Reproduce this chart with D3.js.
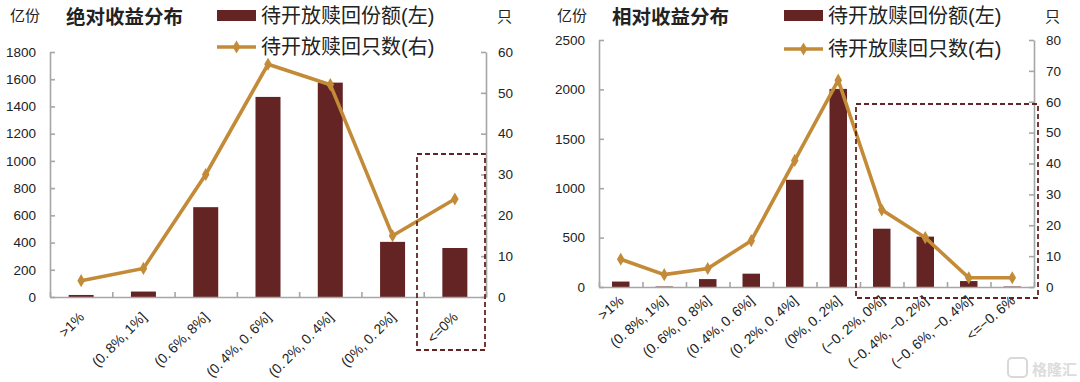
<!DOCTYPE html>
<html>
<head>
<meta charset="utf-8">
<script src="https://cdnjs.cloudflare.com/ajax/libs/d3/7.8.5/d3.min.js"></script>
<style>
  html, body { margin: 0; padding: 0; background: #fff; }
  svg { display: block; }
  text { font-family: "Liberation Sans", "Noto Sans CJK SC", sans-serif; fill: #222; }
  .axis path, .axis line { stroke: #a6a6a6; stroke-width: 1.6; }
</style>
</head>
<body>
<svg id="chart" width="1080" height="382"></svg>
<script>
var absCategories = [">1%", "(0. 8%, 1%]", "(0. 6%, 8%]", "(0. 4%, 0. 6%]", "(0. 2%, 0. 4%]", "(0%, 0. 2%]", "<=0%"];
var absShares = [15, 40, 660, 1470, 1575, 405, 360];
var absCounts = [4, 7, 30, 57, 52, 15, 24];

var relCategories = [">1%", "(0. 8%, 1%]", "(0. 6%, 0. 8%]", "(0. 4%, 0. 6%]", "(0. 2%, 0. 4%]", "(0%, 0. 2%]", "(−0. 2%, 0%]", "(−0. 4%, −0. 2%]", "(−0. 6%, −0. 4%]", "<=−0. 6%"];
var relShares = [55, 5, 80, 135, 1085, 2005, 590, 510, 60, 5];
var relCounts = [9, 4, 6, 15, 41, 67, 25, 16, 3, 3];

var barName = "待开放赎回份额(左)";
var lineName = "待开放赎回只数(右)";
var barColor = "#642424";
var lineColor = "#c38b37";

var svg = d3.select("#chart");

function drawPanel(opts) {
  var xScale = d3.scaleBand().domain(opts.categories).range([opts.left, opts.right]);
  var edgeScale = d3.scaleLinear().domain([0, opts.categories.length]).range([opts.left, opts.right]);
  var yLeft = d3.scaleLinear().domain([0, opts.leftMax]).range([opts.bottom, opts.top]);
  var yRight = d3.scaleLinear().domain([0, opts.rightMax]).range([opts.bottom, opts.top]);
  var g = svg.append("g");

  // bars first, the axes sit on top of them
  g.selectAll(".bar")
    .data(opts.categories)
    .enter()
    .append("rect")
    .attr("class", "bar")
    .attr("x", function(d) { return xScale(d) + (xScale.bandwidth() - opts.barWidth) / 2; })
    .attr("width", opts.barWidth)
    .attr("y", function(d, i) { return yLeft(opts.shares[i]); })
    .attr("height", function(d, i) { return opts.bottom - yLeft(opts.shares[i]); })
    .attr("fill", barColor);

  // left axis
  g.append("g")
    .attr("class", "axis")
    .attr("transform", "translate(" + opts.left + ",0)")
    .call(d3.axisLeft(yLeft).tickValues(opts.leftTicks).tickFormat(d3.format("d")).tickSize(-5).tickPadding(14).tickSizeOuter(0))
    .selectAll("text")
    .style("font-size", "13.5px");

  // right axis
  g.append("g")
    .attr("class", "axis")
    .attr("transform", "translate(" + opts.right + ",0)")
    .call(d3.axisRight(yRight).tickValues(opts.rightTicks).tickFormat(d3.format("d")).tickSize(-5).tickPadding(12).tickSizeOuter(0))
    .selectAll("text")
    .style("font-size", "13.5px");

  // tick marks fall on the band edges
  g.append("g")
    .attr("class", "axis")
    .attr("transform", "translate(0," + opts.bottom + ")")
    .call(d3.axisBottom(edgeScale).tickValues(d3.range(opts.categories.length + 1)).tickFormat("").tickSize(-5).tickSizeOuter(0));

  // rotated labels
  var labels = g.append("g")
    .attr("class", "axis labels")
    .attr("transform", "translate(0," + opts.bottom + ")")
    .call(d3.axisBottom(xScale).tickSize(0).tickPadding(0));
  labels.select("path").remove();
  labels.selectAll("text")
    .attr("text-anchor", "end")
    .attr("dy", null)
    .attr("y", null)
    .attr("transform", "translate(" + opts.labelDx + "," + opts.labelDy + ") rotate(" + opts.labelAngle + ")")
    .style("font-size", opts.labelSize)
    .style("word-spacing", "-1px");

  // line
  var line = d3.line()
    .x(function(d, i) { return xScale(opts.categories[i]) + xScale.bandwidth() / 2; })
    .y(function(d) { return yRight(d); });

  g.append("path")
    .datum(opts.counts)
    .attr("d", line)
    .attr("fill", "none")
    .attr("stroke", lineColor)
    .attr("stroke-width", 3.6);

  g.selectAll(".dot")
    .data(opts.counts)
    .enter()
    .append("path")
    .attr("class", "dot")
    .attr("d", d3.symbol().type(d3.symbolDiamond).size(50))
    .attr("transform", function(d, i) {
      return "translate(" + (xScale(opts.categories[i]) + xScale.bandwidth() / 2) + "," + yRight(d) + ")";
    })
    .attr("fill", lineColor);

  // titles and units
  g.append("text").attr("x", opts.titleX).attr("y", 24).style("font-size", "19.5px").style("font-weight", "bold").text(opts.title);
  g.append("text").attr("x", opts.unitLeftX).attr("y", 21).style("font-size", "15px").text("亿份");
  g.append("text").attr("x", opts.unitRightX).attr("y", 22).style("font-size", "15px").text("只");

  // legend
  g.append("rect").attr("x", opts.legendX).attr("y", 10).attr("width", 39).attr("height", 11).attr("fill", barColor);
  g.append("line").attr("x1", opts.legendX).attr("x2", opts.legendX + 39).attr("y1", opts.legendLineY).attr("y2", opts.legendLineY)
    .attr("stroke", lineColor).attr("stroke-width", 3.6);
  g.append("path").attr("d", d3.symbol().type(d3.symbolDiamond).size(50))
    .attr("transform", "translate(" + (opts.legendX + 19.5) + "," + opts.legendLineY + ")").attr("fill", lineColor);
  g.append("text").attr("x", opts.legendX + 44).attr("y", 23).style("font-size", "20px").text(barName);
  g.append("text").attr("x", opts.legendX + 44).attr("y", opts.legendLineY + 7).style("font-size", "20px").text(lineName);

  // dashed highlight box
  g.append("rect")
    .attr("x", opts.box[0])
    .attr("y", opts.box[1])
    .attr("width", opts.box[2])
    .attr("height", opts.box[3])
    .attr("fill", "none")
    .attr("stroke", barColor)
    .attr("stroke-width", 1.8)
    .attr("stroke-dasharray", "5,3");
}

drawPanel({
  categories: absCategories, shares: absShares, counts: absCounts,
  left: 50, right: 486, top: 52, bottom: 297,
  leftMax: 1800, rightMax: 60,
  leftTicks: d3.range(0, 1801, 200), rightTicks: d3.range(0, 61, 10),
  barWidth: 25, labelDx: 4, labelDy: 21, labelAngle: -45, labelSize: "14px",
  title: "绝对收益分布", titleX: 66, unitLeftX: 10, unitRightX: 497,
  legendX: 217, legendLineY: 47, box: [417, 154, 68, 196]
});

drawPanel({
  categories: relCategories, shares: relShares, counts: relCounts,
  left: 599, right: 1034, top: 40, bottom: 287,
  leftMax: 2500, rightMax: 80,
  leftTicks: d3.range(0, 2501, 500), rightTicks: d3.range(0, 81, 10),
  barWidth: 17.5, labelDx: 4, labelDy: 15, labelAngle: -41, labelSize: "14px",
  title: "相对收益分布", titleX: 612, unitLeftX: 557, unitRightX: 1045,
  legendX: 784, legendLineY: 49, box: [856, 104, 182, 194]
});

// watermark
svg.append("text")
  .attr("x", 1032).attr("y", 375)
  .style("font-size", "15px").style("font-weight", "bold")
  .style("fill", "#dcdcdc")
  .text("格隆汇");
svg.append("rect")
  .attr("x", 1008).attr("y", 358).attr("width", 19).attr("height", 19).attr("rx", 4)
  .attr("fill", "none").attr("stroke", "#d8d8d8").attr("stroke-width", 2);
</script>
</body>
</html>
